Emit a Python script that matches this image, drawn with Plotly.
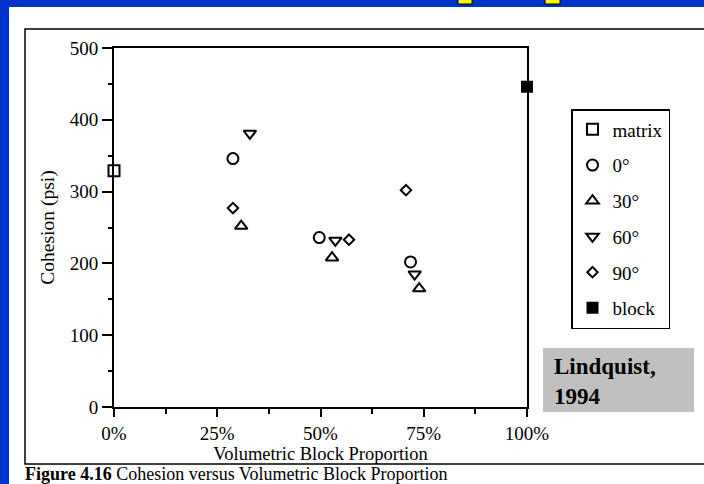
import plotly.graph_objects as go

# ---------------- data ----------------
series_names = ["matrix", "0°", "30°", "60°", "90°", "block"]
matrix_x = [0]
matrix_y = [329]
deg0_x = [28.8, 49.7, 71.8]
deg0_y = [346, 236, 202]
deg30_x = [30.8, 52.8, 73.9]
deg30_y = [252, 208, 165]
deg60_x = [32.9, 53.6, 72.8]
deg60_y = [381, 232, 185]
deg90_x = [28.8, 56.9, 70.7]
deg90_y = [277, 233, 302]
block_x = [100]
block_y = [446]

x_tick_vals = [0, 25, 50, 75, 100]
x_tick_text = ["0%", "25%", "50%", "75%", "100%"]
y_tick_vals = [0, 100, 200, 300, 400, 500]

# ---------------- layout helpers ----------------
W, H = 704, 484
ML, MR, MT, MB = 114, 177, 48, 77
PW, PH = W - ML - MR, H - MT - MB


def px(xp):
    return (xp - ML) / PW


def py(yp):
    return (H - MB - yp) / PH


SERIF = "Liberation Serif, Times New Roman, serif"

fig = go.Figure()

specs = [
    (series_names[0], matrix_x, matrix_y, "square-open", 11),
    (series_names[1], deg0_x, deg0_y, "circle-open", 11),
    (series_names[2], deg30_x, deg30_y, "triangle-up-open", 11),
    (series_names[3], deg60_x, deg60_y, "triangle-down-open", 11),
    (series_names[4], deg90_x, deg90_y, "diamond-open", 8),
    (series_names[5], block_x, block_y, "square", 10),
]
for i, (name, xs, ys, sym, sz) in enumerate(specs):
    fig.add_trace(go.Scatter(
        x=xs, y=ys, mode="markers", name=name,
        legendgroup=f"g{i}",
        marker=dict(symbol=sym, size=sz, color="black",
                    line=dict(color="black", width=2)),
        cliponaxis=False,
    ))

shapes = [
    dict(type="rect", xref="paper", yref="paper",
         x0=px(9), x1=px(720), y0=py(7), y1=py(500),
         fillcolor="white", line=dict(width=0), layer="below"),
    dict(type="rect", xref="paper", yref="paper",
         x0=px(25), x1=px(720), y0=py(29), y1=py(464),
         fillcolor="rgba(0,0,0,0)", line=dict(color="black", width=1.5),
         layer="below"),
    dict(type="rect", xref="paper", yref="paper",
         x0=px(543), x1=px(694), y0=py(348), y1=py(412),
         fillcolor="#c0c0c0", line=dict(width=0), layer="above"),
    dict(type="rect", xref="paper", yref="paper",
         x0=px(458), x1=px(472), y0=py(-2), y1=py(4),
         fillcolor="#ffff00", line=dict(color="black", width=1), layer="above"),
    dict(type="rect", xref="paper", yref="paper",
         x0=px(545), x1=px(560), y0=py(-2), y1=py(4),
         fillcolor="#ffff00", line=dict(color="black", width=1), layer="above"),
]

annotations = [
    dict(text="<b>Lindquist,<br>1994</b>", xref="paper", yref="paper",
         x=px(552), y=py(381), xanchor="left", yanchor="middle",
         align="left", showarrow=False,
         font=dict(family=SERIF, size=23, color="black")),
    dict(text="<b>Figure 4.16</b> Cohesion versus Volumetric Block Proportion",
         xref="paper", yref="paper", x=px(24), y=py(474),
         xanchor="left", yanchor="middle", showarrow=False, borderpad=0,
         font=dict(family=SERIF, size=18, color="black")),
]

fig.update_layout(
    width=W, height=H,
    margin=dict(l=ML, r=MR, t=MT, b=MB, pad=0),
    paper_bgcolor="#0033cc",
    plot_bgcolor="white",
    showlegend=True,
    legend=dict(
        x=px(571), y=py(109), xanchor="left", yanchor="top",
        bgcolor="white", bordercolor="black", borderwidth=1.5,
        font=dict(family=SERIF, size=19, color="black"),
        traceorder="grouped", tracegroupgap=8,
        entrywidth=104, itemsizing="trace",
    ),
    shapes=shapes,
    annotations=annotations,
    xaxis=dict(
        range=[0, 100], tickvals=x_tick_vals, ticktext=x_tick_text,
        showgrid=False, zeroline=False,
        showline=True, linecolor="black", linewidth=2, mirror=True,
        ticks="outside", ticklen=8, tickwidth=2, tickcolor="black",
        minor=dict(tickvals=[12.5, 37.5, 62.5, 87.5], ticks="outside",
                   ticklen=5, tickwidth=2, tickcolor="black"),
        tickfont=dict(family=SERIF, size=19, color="black"),
        title=dict(text="Volumetric Block Proportion", standoff=2,
                   font=dict(family=SERIF, size=18.5, color="black")),
    ),
    yaxis=dict(
        range=[0, 500], tickvals=y_tick_vals,
        showgrid=False, zeroline=False,
        showline=True, linecolor="black", linewidth=2, mirror=True,
        ticks="outside", ticklen=10, tickwidth=2, tickcolor="black",
        minor=dict(dtick=50, tick0=0, ticks="outside",
                   ticklen=4, tickwidth=2, tickcolor="black"),
        tickfont=dict(family=SERIF, size=19, color="black"),
        title=dict(text="Cohesion (psi)", standoff=10,
                   font=dict(family=SERIF, size=19.5, color="black")),
    ),
)

fig.write_html("out.html", config={"displayModeBar": False},
               post_script="document.body.style.margin='0px';")
